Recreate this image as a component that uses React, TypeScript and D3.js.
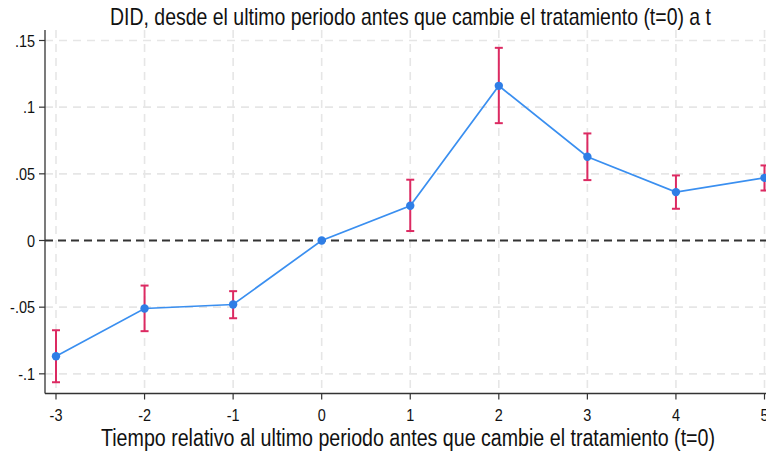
import React from "react";
import * as d3 from "d3";

const periods = [-3, -2, -1, 0, 1, 2, 3, 4, 5];
const estimates = [-0.0868, -0.051, -0.048, 0, 0.0261, 0.116, 0.0628, 0.0363, 0.047];
const ciUpper = [-0.0673, -0.0338, -0.038, 0, 0.0456, 0.1445, 0.0803, 0.0488, 0.0563];
const ciLower = [-0.1063, -0.068, -0.0583, 0, 0.0071, 0.088, 0.0453, 0.0238, 0.0375];
const yTicks = [-0.1, -0.05, 0, 0.05, 0.1, 0.15];
const yTickLabels = ["-.1", "-.05", "0", ".05", ".1", ".15"];
const title = "DID, desde el ultimo periodo antes que cambie el tratamiento (t=0) a t";
const xTitle = "Tiempo relativo al ultimo periodo antes que cambie el tratamiento (t=0)";

const W = 766;
const H = 454;
const FONT = "'Liberation Sans Narrow', 'Arial Narrow', 'Liberation Sans', Arial, sans-serif";

export default function App() {
  const x = d3.scaleLinear().domain([-3, 5]).range([56, 764.5]);
  const y = d3.scaleLinear().domain([0, 0.15]).range([240.5, 40.5]);
  const axisLeft = 45;
  const axisBottom = 393.5;
  const plotTop = 30;

  const pts = periods.map((p, i) => ({ p, v: estimates[i], lo: ciLower[i], hi: ciUpper[i] }));
  const line = d3
    .line<{ p: number; v: number }>()
    .x((d) => x(d.p))
    .y((d) => y(d.v));

  return (
    <svg
      width={W}
      height={H}
      style={{ position: "absolute", left: 0, top: 0, background: "#fff" }}
      fontFamily={FONT}
    >
      <rect x={0} y={0} width={W} height={H} fill="#fff" />
      {yTicks.filter((t) => t !== 0).map((t) => (
        <line
          key={"gy" + t}
          x1={axisLeft}
          x2={W}
          y1={y(t)}
          y2={y(t)}
          stroke="#e6e6e6"
          strokeWidth={1.6}
          strokeDasharray="8,6"
        />
      ))}
      {periods.map((p) => (
        <line
          key={"gx" + p}
          x1={x(p)}
          x2={x(p)}
          y1={plotTop}
          y2={axisBottom}
          stroke="#e6e6e6"
          strokeWidth={1.6}
          strokeDasharray="8,6"
        />
      ))}
      <line
        x1={axisLeft}
        x2={W}
        y1={y(0)}
        y2={y(0)}
        stroke="#333"
        strokeWidth={1.8}
        strokeDasharray="8,5"
      />
      <line x1={axisLeft} x2={axisLeft} y1={plotTop} y2={axisBottom} stroke="#333" strokeWidth={1.3} />
      <line x1={axisLeft} x2={W} y1={axisBottom} y2={axisBottom} stroke="#333" strokeWidth={1.3} />
      {yTicks.map((t, i) => (
        <g key={"yt" + t}>
          <line x1={axisLeft - 6} x2={axisLeft} y1={y(t)} y2={y(t)} stroke="#333" strokeWidth={1.2} />
          <g transform={`translate(${axisLeft - 10},${y(t)}) scale(0.85,1)`}>
            <text dy="0.36em" textAnchor="end" fontSize={17} fill="#111">
              {yTickLabels[i]}
            </text>
          </g>
        </g>
      ))}
      {periods.map((p) => (
        <g key={"xt" + p}>
          <line x1={x(p)} x2={x(p)} y1={axisBottom} y2={axisBottom + 6} stroke="#333" strokeWidth={1.2} />
          <g transform={`translate(${x(p)},${axisBottom + 27}) scale(0.85,1)`}>
            <text textAnchor="middle" fontSize={17} fill="#111">
              {String(p)}
            </text>
          </g>
        </g>
      ))}
      <path d={line(pts) || ""} fill="none" stroke="#3a8ff0" strokeWidth={1.7} />
      {pts
        .filter((d) => d.hi !== d.lo)
        .map((d) => (
          <g key={"eb" + d.p} stroke="#dc2a62" strokeWidth={2}>
            <line x1={x(d.p)} x2={x(d.p)} y1={y(d.hi)} y2={y(d.lo)} />
            <line x1={x(d.p) - 4} x2={x(d.p) + 4} y1={y(d.hi)} y2={y(d.hi)} />
            <line x1={x(d.p) - 4} x2={x(d.p) + 4} y1={y(d.lo)} y2={y(d.lo)} />
          </g>
        ))}
      {pts.map((d) => (
        <circle key={"pt" + d.p} cx={x(d.p)} cy={y(d.v)} r={4.2} fill="#2f7ee6" />
      ))}
      <text
        x={410.5}
        y={25}
        textAnchor="middle"
        fontSize={24}
        fill="#111"
        textLength={601}
        lengthAdjust="spacingAndGlyphs"
      >
        {title}
      </text>
      <text
        x={408}
        y={446}
        textAnchor="middle"
        fontSize={23}
        fill="#111"
        textLength={614}
        lengthAdjust="spacingAndGlyphs"
      >
        {xTitle}
      </text>
    </svg>
  );
}
